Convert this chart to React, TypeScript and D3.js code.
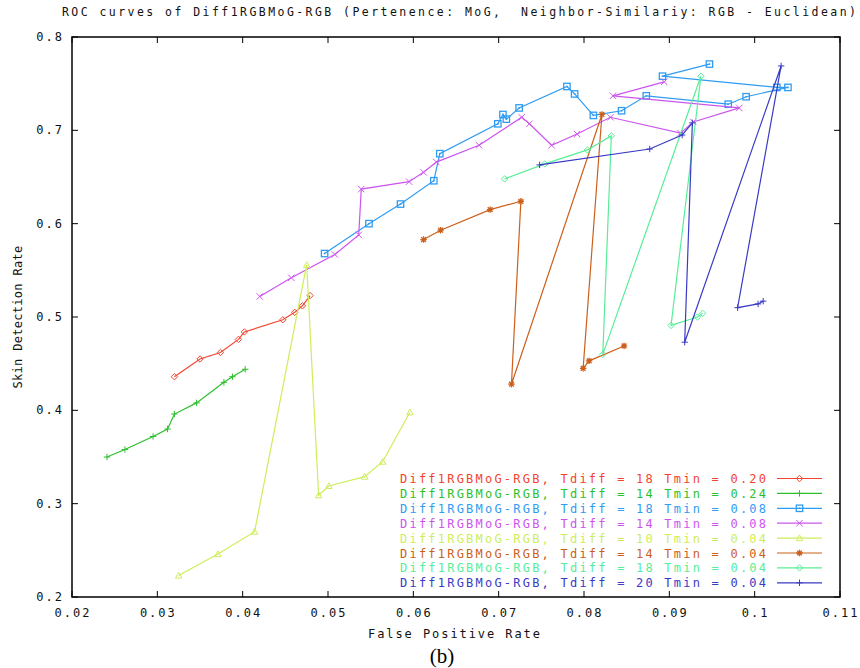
import * as d3 from "d3";

// ROC curves, False Positive Rate (x) vs Skin Detection Rate (y)
const xTicks = [0.02, 0.03, 0.04, 0.05, 0.06, 0.07, 0.08, 0.09, 0.1, 0.11];
const yTicks = [0.2, 0.3, 0.4, 0.5, 0.6, 0.7, 0.8];

const title =
  "ROC curves of Diff1RGBMoG-RGB (Pertenence: MoG,  Neighbor-Similariy: RGB - Euclidean)";

const seriesNames = [
  "Diff1RGBMoG-RGB, Tdiff = 18 Tmin = 0.20",
  "Diff1RGBMoG-RGB, Tdiff = 14 Tmin = 0.24",
  "Diff1RGBMoG-RGB, Tdiff = 18 Tmin = 0.08",
  "Diff1RGBMoG-RGB, Tdiff = 14 Tmin = 0.08",
  "Diff1RGBMoG-RGB, Tdiff = 10 Tmin = 0.04",
  "Diff1RGBMoG-RGB, Tdiff = 14 Tmin = 0.04",
  "Diff1RGBMoG-RGB, Tdiff = 18 Tmin = 0.04",
  "Diff1RGBMoG-RGB, Tdiff = 20 Tmin = 0.04",
];
const seriesColors = ["#f2452f", "#2cbf2c", "#2f9cf2", "#cc55ee", "#cdee5a", "#cc5f1c", "#58ee98", "#3a3ac6"];
const seriesMarkers = ["diamond", "plus", "square", "cross", "triangle", "star", "diamond", "plus"];

const fpr18_020 = [0.032, 0.035, 0.0374, 0.0395, 0.0402, 0.0447, 0.0461, 0.047, 0.0479];
const tpr18_020 = [0.436, 0.455, 0.462, 0.476, 0.484, 0.497, 0.505, 0.512, 0.523];

const fpr14_024 = [0.0241, 0.0262, 0.0295, 0.0312, 0.032, 0.0346, 0.0378, 0.0388, 0.0403];
const tpr14_024 = [0.35, 0.358, 0.372, 0.38, 0.396, 0.408, 0.43, 0.436, 0.444];

const fpr18_008 = [
  0.0496, 0.0548, 0.0585, 0.0624, 0.0631, 0.0699, 0.0705, 0.0709, 0.0724, 0.078, 0.0789,
  0.0811, 0.0844, 0.0873, 0.0969, 0.099, 0.1039, 0.1026, 0.0892, 0.0947,
];
const tpr18_008 = [
  0.568, 0.6, 0.621, 0.646, 0.675, 0.707, 0.717, 0.712, 0.724, 0.747, 0.739,
  0.716, 0.721, 0.737, 0.728, 0.736, 0.746, 0.746, 0.758, 0.771,
];

const fpr14_008 = [
  0.042, 0.0457, 0.0508, 0.0536, 0.0539, 0.0595, 0.0612, 0.0627, 0.0677, 0.0727, 0.0736,
  0.0762, 0.0792, 0.0831, 0.0913, 0.0928, 0.0982, 0.0834, 0.0894,
];
const tpr14_008 = [
  0.522, 0.542, 0.567, 0.588, 0.637, 0.645, 0.655, 0.666, 0.684, 0.714, 0.707,
  0.684, 0.696, 0.714, 0.697, 0.709, 0.724, 0.737, 0.752,
];

const fpr10_004 = [0.0325, 0.0371, 0.0414, 0.0475, 0.0489, 0.0501, 0.0543, 0.0564, 0.0596];
const tpr10_004 = [0.223, 0.246, 0.27, 0.556, 0.309, 0.319, 0.329, 0.345, 0.398];

const fpr14_004 = [0.0612, 0.0632, 0.069, 0.0726, 0.0715, 0.0821, 0.0799, 0.0806, 0.0847];
const tpr14_004 = [0.583, 0.593, 0.615, 0.624, 0.428, 0.717, 0.445, 0.453, 0.469];

const fpr18_004 = [0.0707, 0.0754, 0.0804, 0.0832, 0.0822, 0.0937, 0.0902, 0.0933, 0.0939];
const tpr18_004 = [0.648, 0.664, 0.679, 0.694, 0.46, 0.758, 0.491, 0.5, 0.504];

const fpr20_004 = [0.0748, 0.0877, 0.0915, 0.0927, 0.0918, 0.1031, 0.098, 0.1004, 0.101];
const tpr20_004 = [0.663, 0.68, 0.695, 0.708, 0.473, 0.769, 0.51, 0.514, 0.517];

const fprs = [fpr18_020, fpr14_024, fpr18_008, fpr14_008, fpr10_004, fpr14_004, fpr18_004, fpr20_004];
const tprs = [tpr18_020, tpr14_024, tpr18_008, tpr14_008, tpr10_004, tpr14_004, tpr18_004, tpr20_004];

const W = 860;
const H = 668;
const plot = { left: 72, right: 840, top: 37, bottom: 597 };
const mono = "'DejaVu Sans Mono', monospace";

const Marker = ({ type, x, y, color }) => {
  const s = 3.2;
  const common = { stroke: color, strokeWidth: 1, fill: "none" };
  if (type === "diamond")
    return <path {...common} d={`M${x},${y - s}L${x + s},${y}L${x},${y + s}L${x - s},${y}Z`} />;
  if (type === "plus")
    return <path {...common} d={`M${x - s},${y}H${x + s}M${x},${y - s}V${y + s}`} />;
  if (type === "square")
    return (
      <g>
        <rect {...common} x={x - s} y={y - s} width={2 * s} height={2 * s} strokeWidth={1.3} />
        <rect x={x - 0.8} y={y - 0.8} width={1.6} height={1.6} fill={color} />
      </g>
    );
  if (type === "cross")
    return <path {...common} d={`M${x - s},${y - s}L${x + s},${y + s}M${x - s},${y + s}L${x + s},${y - s}`} />;
  if (type === "triangle")
    return <path {...common} d={`M${x},${y - s}L${x + s},${y + s * 0.8}L${x - s},${y + s * 0.8}Z`} />;
  // star
  return (
    <path
      {...common}
      strokeWidth={1.3}
      d={`M${x - s},${y}H${x + s}M${x},${y - s}V${y + s}M${x - s * 0.75},${y - s * 0.75}L${x + s * 0.75},${y + s * 0.75}M${x - s * 0.75},${y + s * 0.75}L${x + s * 0.75},${y - s * 0.75}`}
    />
  );
};

const App = () => {
  const x = d3.scaleLinear().domain([0.02, 0.11]).range([plot.left, plot.right]);
  const y = d3.scaleLinear().domain([0.2, 0.8]).range([plot.bottom, plot.top]);
  const tickLen = 6;

  const line = d3
    .line<number>()
    .x((d) => d[0])
    .y((d) => d[1]);

  return (
    <svg
      width={W}
      height={H}
      style={{ position: "absolute", left: 0, top: 0, background: "#fff" }}
    >
      <rect x={0} y={0} width={W} height={H} fill="#fff" />

      <text
        x={62}
        y={16}
        fontFamily={mono}
        fontSize={11.5}
        textLength={794}
        lengthAdjust="spacing"
        fill="#111"
        style={{ whiteSpace: "pre" }}
      >
        {title}
      </text>

      {/* ticks, mirrored on all four sides */}
      {xTicks.map((t) => (
        <g key={"xt" + t}>
          <line x1={x(t)} x2={x(t)} y1={plot.bottom} y2={plot.bottom - tickLen} stroke="#000" />
          <line x1={x(t)} x2={x(t)} y1={plot.top} y2={plot.top + tickLen} stroke="#000" />
          <text
            x={x(t) + 1}
            y={617}
            textAnchor="middle"
            fontFamily={mono}
            fontSize={12}
            letterSpacing={2}
            fill="#111"
          >
            {String(t)}
          </text>
        </g>
      ))}
      {yTicks.map((t) => (
        <g key={"yt" + t}>
          <line x1={plot.left} x2={plot.left + tickLen} y1={y(t)} y2={y(t)} stroke="#000" />
          <line x1={plot.right} x2={plot.right - tickLen} y1={y(t)} y2={y(t)} stroke="#000" />
          <text
            x={62 + 2}
            y={y(t) + 4}
            textAnchor="end"
            fontFamily={mono}
            fontSize={12}
            letterSpacing={2}
            fill="#111"
          >
            {t.toFixed(1)}
          </text>
        </g>
      ))}

      <text
        x={368}
        y={638}
        fontFamily={mono}
        fontSize={12}
        textLength={172}
        lengthAdjust="spacing"
        fill="#111"
      >
        False Positive Rate
      </text>
      <text
        transform={`translate(22,${(plot.top + plot.bottom) / 2}) rotate(-90)`}
        textAnchor="middle"
        fontFamily={mono}
        fontSize={12}
        letterSpacing={0.3}
        fill="#111"
      >
        Skin Detection Rate
      </text>
      <text x={442} y={663} textAnchor="middle" fontFamily="'Liberation Serif', serif" fontSize={21} fill="#000">
        (b)
      </text>

      {/* curves */}
      {fprs.map((fs, i) => {
        const pts = fs.map((f, j) => [x(f), y(tprs[i][j])]);
        return (
          <g key={"s" + i}>
            <path d={line(pts)} fill="none" stroke={seriesColors[i]} strokeWidth={1.2} />
            {pts.map((p, j) => (
              <Marker key={j} type={seriesMarkers[i]} x={p[0]} y={p[1]} color={seriesColors[i]} />
            ))}
          </g>
        );
      })}

      {/* legend */}
      {seriesNames.map((name, i) => {
        const ly = 478.5 + i * 14.9;
        return (
          <g key={"lg" + i}>
            <text
              x={400}
              y={ly + 4.5}
              fontFamily={mono}
              fontSize={12}
              textLength={366}
              lengthAdjust="spacing"
              fill={seriesColors[i]}
            >
              {name}
            </text>
            <line x1={777} x2={822} y1={ly} y2={ly} stroke={seriesColors[i]} strokeWidth={1.2} />
            <Marker type={seriesMarkers[i]} x={799.5} y={ly} color={seriesColors[i]} />
          </g>
        );
      })}

      <rect
        x={plot.left}
        y={plot.top}
        width={plot.right - plot.left}
        height={plot.bottom - plot.top}
        fill="none"
        stroke="#000"
        strokeWidth={1.5}
      />
    </svg>
  );
};

export default App;
